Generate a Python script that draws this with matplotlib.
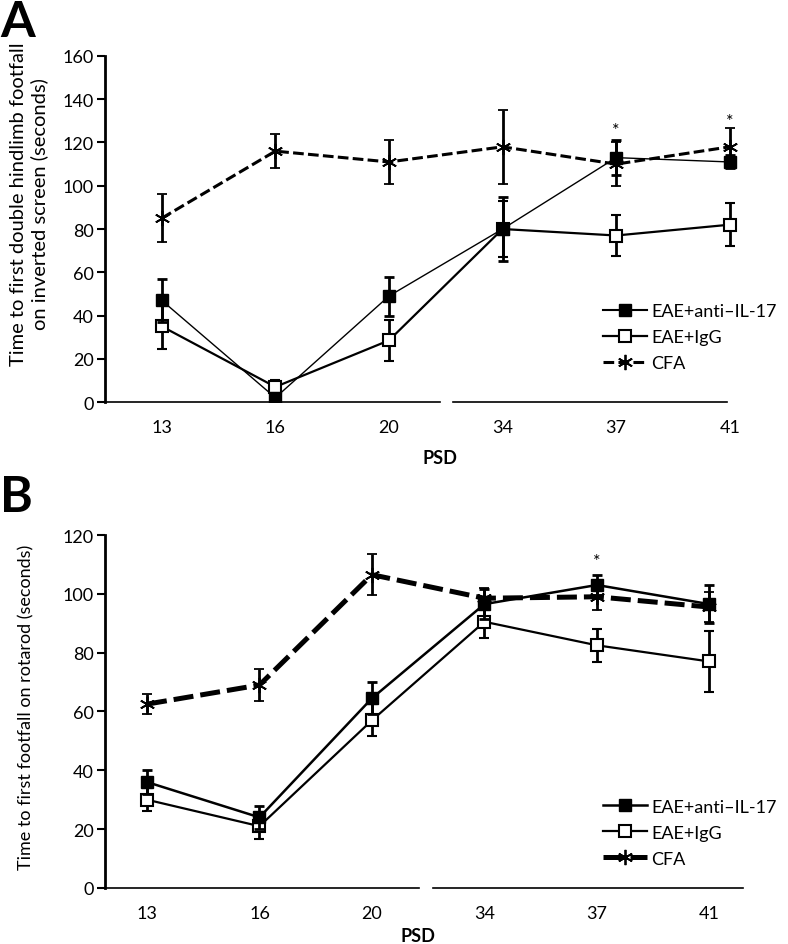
import matplotlib
matplotlib.use("Agg")
import matplotlib.pyplot as plt
import matplotlib.transforms as mtransforms
from matplotlib.lines import Line2D

plt.rcParams["font.family"] = ["Lato", "DejaVu Sans"]

PSD = ["13", "16", "20", "34", "37", "41"]
GROUPS = ["EAE+anti\u2013IL-17", "EAE+IgG", "CFA"]

# Panel A: inverted screen
a_anti = [47, 2, 49, 80, 113, 111]
a_anti_err = [10, 2, 9, 15, 8, 3]
a_igg = [35, 7, 28.5, 80, 77, 82]
a_igg_err = [10.5, 3, 9.5, 13, 9.5, 10]
a_cfa = [85, 116, 111, 118, 110, 118]
a_cfa_err = [11, 8, 10, 17, 10, 8.5]
a_star_idx = [4, 5]
a_star_y = [126, 130]

# Panel B: rotarod
b_anti = [36, 24, 64.5, 96.5, 103, 96.5]
b_anti_err = [4, 4, 5.5, 5, 3.5, 6.5]
b_igg = [30, 21, 57, 90.5, 82.5, 77]
b_igg_err = [4, 4.5, 5.5, 5.5, 5.7, 10.5]
b_cfa = [62.5, 69, 106.5, 98.5, 99, 95.5]
b_cfa_err = [3.5, 5.5, 7, 3.5, 4.5, 5]
b_star_idx = [4]
b_star_y = [111]

STAR = (6, 2, 0)


def panel(ax, anti, anti_err, igg, igg_err, cfa, cfa_err, ymax, ystep,
          ylabel, ylabel_size, seg1, seg2, cfa_lw, cfa_dash, lw_anti, lw_igg,
          stars_x, stars_y):
    x = list(range(len(PSD)))
    eb = dict(ecolor="black", elinewidth=2, capsize=3.5, capthick=2)
    ax.errorbar(x, cfa, yerr=cfa_err, color="black", lw=cfa_lw,
                dashes=cfa_dash, marker=STAR, ms=11, mew=1.3, zorder=3, **eb)
    ax.errorbar(x, igg, yerr=igg_err, color="black", lw=lw_igg,
                marker="s", ms=8, mfc="white", mec="black", mew=1.5,
                zorder=4, **eb)
    ax.errorbar(x, anti, yerr=anti_err, color="black", lw=lw_anti,
                marker="s", ms=8, mfc="black", mec="black", zorder=5, **eb)
    for xi, yi in zip(stars_x, stars_y):
        ax.text(xi, yi, "*", ha="center", va="center", fontsize=13)

    ax.set_ylim(0, ymax)
    ax.set_yticks(range(0, ymax + 1, ystep))
    ax.set_xticks(x)
    ax.set_xticklabels(PSD)
    ax.tick_params(axis="y", direction="out", length=6, width=1.5,
                   labelsize=13, pad=2)
    ax.tick_params(axis="x", length=0, labelsize=13, pad=12)
    for s in ["top", "right", "bottom"]:
        ax.spines[s].set_visible(False)
    ax.spines["left"].set_linewidth(2)
    trans = mtransforms.blended_transform_factory(ax.transData, ax.transAxes)
    for a, b in (seg1, seg2):
        ax.plot([a, b], [0, 0], color="black", lw=1.2, transform=trans,
                clip_on=False)
    ax.set_ylabel(ylabel, fontsize=ylabel_size)
    ax.set_xlabel("PSD", fontsize=13, fontweight="bold")

    handles = [
        Line2D([], [], color="black", lw=max(lw_anti, 1.5), marker="s", ms=8,
               mfc="black", mec="black"),
        Line2D([], [], color="black", lw=max(lw_igg, 1.5), marker="s", ms=8,
               mfc="white", mec="black", mew=1.5),
        Line2D([], [], color="black", lw=cfa_lw, dashes=cfa_dash,
               marker=STAR, ms=11, mew=1.3),
    ]
    return handles


fig = plt.figure(figsize=(7.88, 9.45), dpi=100)
leg_kw = dict(loc="upper left", frameon=False, fontsize=13,
              handlelength=2.4, handletextpad=0.25, labelspacing=0.55,
              bbox_transform=fig.transFigure)

axA = fig.add_axes([0.1332, 0.5735, 0.8312, 0.3662])
axA.set_xlim(-0.5, 5.266)
h = panel(axA, a_anti, a_anti_err, a_igg, a_igg_err, a_cfa, a_cfa_err,
          160, 20,
          "Time to first double hindlimb footfall\non inverted screen (seconds)",
          14.5, (-0.5, 2.45), (2.56, 4.98), 2.2, (3.5, 1.4), 1.0, 1.6,
          a_star_idx, a_star_y)
axA.legend(h, GROUPS, bbox_to_anchor=(0.745, 0.695), **leg_kw)
axA.xaxis.set_label_coords((440 - 105) / 655, -0.135)
axA.yaxis.set_label_coords(-0.087, 0.575)

axB = fig.add_axes([0.1332, 0.0593, 0.8312, 0.3735])
axB.set_xlim(-0.374, 5.45)
h = panel(axB, b_anti, b_anti_err, b_igg, b_igg_err, b_cfa, b_cfa_err,
          120, 20, "Time to first footfall on rotarod (seconds)", 13,
          (-0.374, 2.42), (2.54, 5.3), 3.6, (4.0, 1.4), 1.8, 1.6,
          b_star_idx, b_star_y)
axB.legend(h, GROUPS, bbox_to_anchor=(0.745, 0.171), **leg_kw)
axB.xaxis.set_label_coords((418 - 105) / 655, -0.11)
axB.yaxis.set_label_coords(-0.108, 0.515)

fig.text(0.0, 1.0, "A", fontsize=36, fontweight="bold", ha="left", va="top")
fig.text(0.0, 0.497, "B", fontsize=36, fontweight="bold", ha="left", va="top")

fig.savefig("out.png", dpi=100)
